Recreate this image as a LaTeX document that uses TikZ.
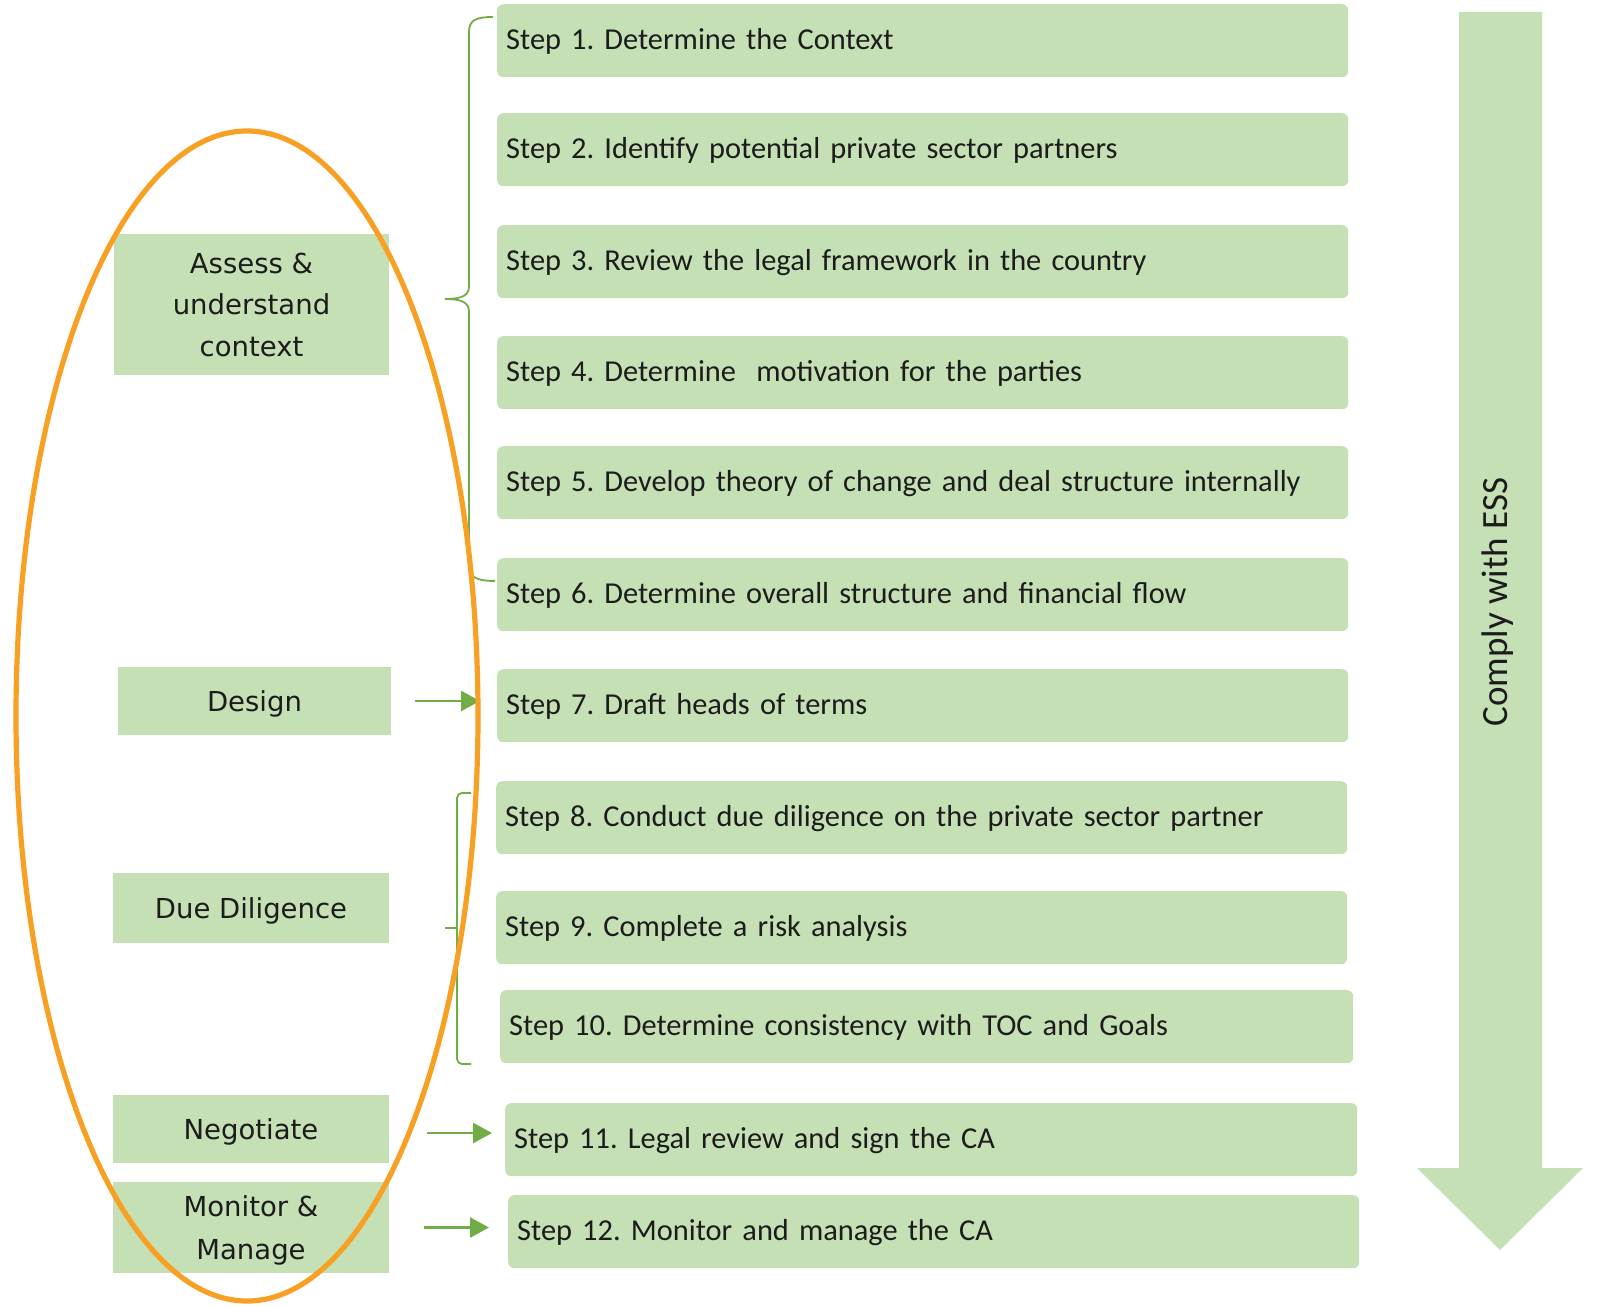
\documentclass[tikz,border=0pt]{standalone}
\usepackage{fontspec}
\setmainfont{Carlito}
\newfontfamily\phasefont{DejaVu Sans}
\usetikzlibrary{arrows.meta,calc}
\definecolor{boxgreen}{RGB}{197,224,180}
\definecolor{linegreen}{RGB}{112,173,71}
\definecolor{ringorange}{RGB}{248,160,36}
\definecolor{inkgray}{RGB}{28,28,28}
\frenchspacing

\begin{document}
\begin{tikzpicture}[x=1pt,y=-1pt,
  stepbox/.style={fill=boxgreen, rounded corners=6pt, anchor=north west,
    minimum height=73pt, text width=#1, align=left, inner xsep=9pt, inner ysep=0pt,
    font=\fontsize{30.4}{36}\selectfont, text=inkgray, text height=22pt, text depth=5pt},
  stepbox/.default=833pt,
  phasebox/.style={fill=boxgreen, inner sep=0pt, align=center,
    font=\phasefont\fontsize{27.5}{41.5}\selectfont, text=inkgray},
  oneline/.style={text height=24pt, text depth=4pt},
  flow/.style={draw=linegreen, line width=2.6pt, -{Triangle[length=19pt,width=20pt]}},
  bracket/.style={draw=linegreen, line width=1.8pt},
]
\useasboundingbox (0,0) rectangle (1600,1306);

% steps
\node[stepbox] (s1)  at (497,4)    {Step 1. Determine the Context};
\node[stepbox] (s2)  at (497,113)  {Step 2. Identify potential private sector partners};
\node[stepbox] (s3)  at (497,225)  {Step 3. Review the legal framework in the country};
\node[stepbox] (s4)  at (497,336)  {Step 4. Determine\ \ motivation for the parties};
\node[stepbox] (s5)  at (497,446)  {Step 5. Develop theory of change and deal structure internally};
\node[stepbox] (s6)  at (497,558)  {Step 6. Determine overall structure and financial flow};
\node[stepbox] (s7)  at (497,669)  {Step 7. Draft heads of terms};
\node[stepbox] (s8)  at (496,781)  {Step 8. Conduct due diligence on the private sector partner};
\node[stepbox] (s9)  at (496,891)  {Step 9. Complete a risk analysis};
\node[stepbox=835pt] (s10) at (500,990)  {Step 10. Determine consistency with TOC and Goals};
\node[stepbox=834pt] (s11) at (505,1103) {Step 11. Legal review and sign the CA};
\node[stepbox=833pt] (s12) at (508,1195) {Step 12. Monitor and manage the CA};

% phases
\node[phasebox, minimum width=275pt, minimum height=141pt] (assess) at (251.5,304.5) {Assess \&\\understand\\context};
\node[phasebox, oneline, minimum width=273pt, minimum height=68pt] (design) at (254.5,701) {Design};
\node[phasebox, oneline, minimum width=276pt, minimum height=70pt] (due) at (251,908) {Due Diligence};
\node[phasebox, oneline, minimum width=276pt, minimum height=68pt] (neg) at (251,1129) {Negotiate};
\node[phasebox, minimum width=276pt, minimum height=91pt] (mon) at (251,1227.5) {};
\node[phasebox, font=\phasefont\fontsize{27.5}{43}\selectfont] at ([yshift=-3pt]mon.center) {Monitor \&\\Manage};

% phase-to-step arrows
\draw[flow, shorten <=24pt, shorten >=17pt] (design.east) -- (design.east -| s7.west);
\draw[flow, shorten <=38pt, shorten >=13pt] ([yshift=-4pt]neg.east) -- ([yshift=-4pt]neg.east -| s11.west);
\draw[flow, shorten <=35pt, shorten >=19pt] (mon.east) -- (mon.east -| s12.west);

% brace grouping steps 1-6
\draw[bracket] (493,17) .. controls (476,17) and (469,20) .. (469,32)
  -- (469,286) .. controls (469,295) and (463,299) .. (445,299)
  .. controls (463,299) and (469,303) .. (469,312)
  -- (469,567) .. controls (469,577) and (477,581) .. (495,581);

% bracket grouping steps 8-10
\draw[bracket, rounded corners=5pt] (471,793) -- (457,793) -- (457,1064) -- (471,1064);
\draw[bracket] (445,928) -- (457,928);

% overall compliance arrow
\fill[boxgreen] (1459,12) -- (1542,12) -- (1542,1168) -- (1583,1168)
  -- (1500,1250) -- (1417,1168) -- (1459,1168) -- cycle;
\node[rotate=90, font=\fontsize{37}{44}\selectfont, text=inkgray] (ess) at (1498,602) {Comply with ESS};

% ring around the phases
\draw[ringorange, line width=5.2pt] (247,716) ellipse [x radius=231, y radius=585];
\end{tikzpicture}
\end{document}
